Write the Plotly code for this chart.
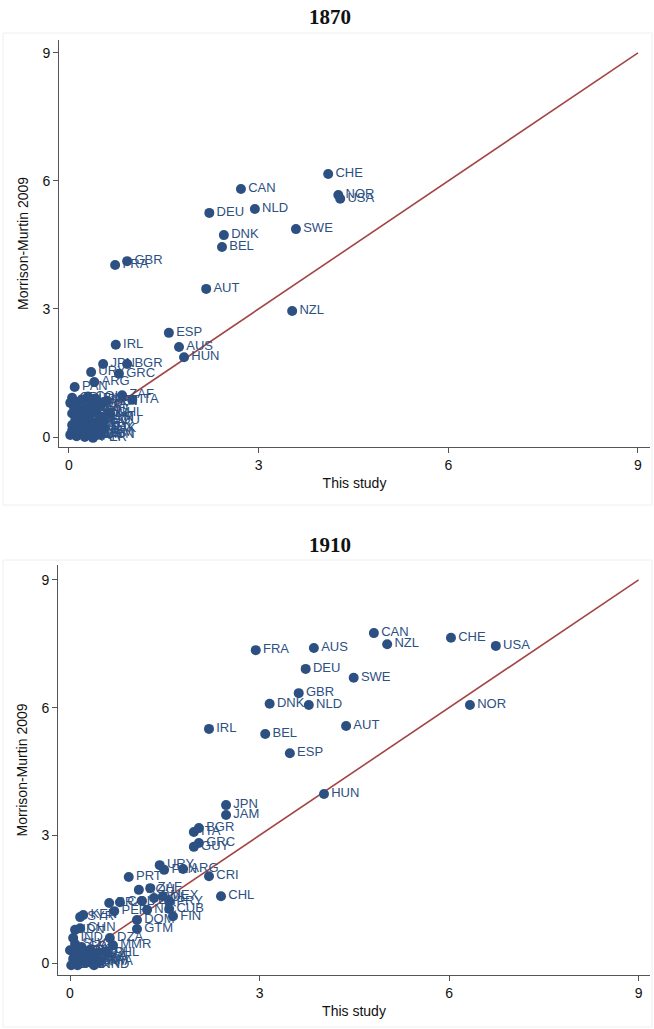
import plotly.graph_objects as go

# ---------------- data ----------------
codes_1870 = ["CHE", "NOR", "USA", "CAN", "NLD", "DEU", "SWE", "DNK", "BEL", "GBR", "FRA",
              "AUT", "NZL", "ESP", "AUS", "HUN", "IRL", "JPN", "BGR", "URY", "GRC", "ARG",
              "PAN", "ZAF", "ITA", "CHL", "MEX", "PER",
              "COL", "CRI", "CUB", "ECU", "SLV", "GTM", "HND", "NIC", "PRY", "VEN", "BRA",
              "BOL", "DOM", "HTI", "JAM", "PRT", "FIN", "POL", "ROU", "SRB", "TUR", "EGY",
              "IND", "CHN", "IDN", "THA", "PHL", "MMR", "KOR", "VNM", "DZA", "MAR", "TUN",
              "GHA", "KEN", "NGA", "IRN", "LKA", "BGD", "PAK", "SYR"]
x_1870 = [4.10, 4.26, 4.29, 2.72, 2.94, 2.22, 3.59, 2.45, 2.42, 0.92, 0.73,
          2.17, 3.53, 1.58, 1.74, 1.82, 0.74, 0.54, 0.92, 0.35, 0.79, 0.40,
          0.09, 0.84, 1.00, 0.65, 0.46, 0.38,
          0.30, 0.05, 0.20, 0.02, 0.12, 0.32, 0.08, 0.25, 0.45, 0.55, 0.15,
          0.05, 0.35, 0.22, 0.50, 0.60, 0.42, 0.28, 0.55, 0.10, 0.18, 0.40,
          0.05, 0.25, 0.15, 0.35, 0.08, 0.20, 0.30, 0.45, 0.12, 0.25, 0.50,
          0.02, 0.38, 0.15, 0.42, 0.30, 0.05, 0.55, 0.48]
y_1870 = [6.16, 5.67, 5.58, 5.81, 5.34, 5.25, 4.87, 4.73, 4.45, 4.12, 4.03,
          3.47, 2.95, 2.44, 2.11, 1.87, 2.16, 1.71, 1.71, 1.52, 1.48, 1.29,
          1.17, 0.98, 0.87, 0.56, 0.21, -0.02,
          0.95, 0.92, 0.88, 0.80, 0.78, 0.75, 0.70, 0.68, 0.72, 0.82, 0.60,
          0.55, 0.55, 0.50, 0.48, 0.85, 0.90, 0.42, 0.38, 0.40, 0.35, 0.32,
          0.28, 0.25, 0.20, 0.15, 0.12, 0.08, 0.05, 0.10, 0.02, 0.00, 0.05,
          0.05, 0.30, 0.45, 0.60, 0.62, 0.15, 0.20, 0.45]

codes_1910 = ["CAN", "NZL", "CHE", "USA", "FRA", "AUS", "DEU", "SWE", "GBR", "DNK", "NLD",
              "NOR", "IRL", "BEL", "AUT", "ESP", "HUN", "JPN", "JAM", "BGR", "ITA", "GRC",
              "GUY", "URY", "PAN", "ARG", "CRI", "PRT", "CHL", "ROU", "ZAF", "MEX", "POL",
              "PRY", "BRA", "COL", "VEN", "PER", "NIC", "CUB", "FIN", "DOM", "GTM",
              "KEN", "SYR", "CHN", "IDN", "IND", "DZA", "MMR", "PHL", "THA",
              "EGY", "TUR", "KOR", "GHA", "NGA", "MAR", "TUN", "VNM", "LKA", "BGD",
              "PAK", "IRN", "HTI", "BOL", "HND", "SLV", "ECU", "SRB"]
x_1910 = [4.81, 5.02, 6.03, 6.74, 2.94, 3.86, 3.73, 4.49, 3.62, 3.16, 3.78,
          6.33, 2.20, 3.09, 4.37, 3.48, 4.02, 2.47, 2.47, 2.04, 1.96, 2.04,
          1.96, 1.42, 1.49, 1.79, 2.20, 0.93, 2.39, 1.09, 1.27, 1.47, 1.33,
          1.57, 0.62, 0.79, 1.14, 0.70, 1.22, 1.57, 1.63, 1.06, 1.06,
          0.21, 0.16, 0.16, 0.08, 0.05, 0.63, 0.68, 0.58, 0.47,
          0.00, 0.10, 0.20, 0.30, 0.05, 0.15, 0.25, 0.35, 0.40, 0.02,
          0.12, 0.22, 0.32, 0.45, 0.38, 0.08, 0.27, 0.18]
y_1910 = [7.75, 7.49, 7.64, 7.45, 7.35, 7.40, 6.91, 6.70, 6.34, 6.09, 6.06,
          6.06, 5.50, 5.38, 5.57, 4.93, 3.97, 3.71, 3.48, 3.17, 3.08, 2.82,
          2.73, 2.30, 2.19, 2.21, 2.04, 2.02, 1.57, 1.72, 1.76, 1.57, 1.53,
          1.45, 1.41, 1.43, 1.46, 1.22, 1.25, 1.27, 1.10, 1.01, 0.80,
          1.13, 1.08, 0.82, 0.78, 0.59, 0.59, 0.42, 0.24, 0.02,
          0.30, 0.25, 0.20, 0.15, 0.10, 0.05, 0.00, 0.05, 0.15, -0.05,
          -0.05, 0.30, 0.32, 0.25, -0.05, 0.45, 0.10, 0.38]

diag = [0, 9]
tick_vals = [0, 3, 6, 9]
titles = ["1870", "1910"]

# ---------------- style ----------------
NAVY = "#2d5082"
RED = "#a34545"
AXC = "#555555"
W, H = 654, 1029

fig = go.Figure()

panels = [(codes_1870, x_1870, y_1870), (codes_1910, x_1910, y_1910)]
for i, (c, xv, yv) in enumerate(panels):
    sfx = "" if i == 0 else "2"
    fig.add_trace(go.Scatter(
        x=diag, y=diag, mode="lines", line=dict(color=RED, width=1.6),
        xaxis="x" + sfx, yaxis="y" + sfx, showlegend=False, hoverinfo="skip"))
    fig.add_trace(go.Scatter(
        x=xv, y=yv, text=c, mode="markers+text", textposition="middle right",
        marker=dict(color=NAVY, size=10, line=dict(width=0)),
        textfont=dict(family="Liberation Sans, Arial", size=13, color=NAVY),
        xaxis="x" + sfx, yaxis="y" + sfx, showlegend=False))

def px_x(p):
    return p / W

def px_y(p):
    return 1 - p / H

axis_common = dict(
    tickvals=tick_vals, ticks="outside", ticklen=5, tickwidth=1, tickcolor=AXC,
    showline=True, linecolor=AXC, linewidth=1, showgrid=False, zeroline=False,
    automargin=False,
    tickfont=dict(family="Liberation Sans, Arial", size=14, color="#111111"),
    title_font=dict(family="Liberation Sans, Arial", size=14, color="#111111"),
)

fig.update_layout(
    width=W, height=H, margin=dict(l=0, r=0, t=0, b=0),
    paper_bgcolor="white", plot_bgcolor="white",
    xaxis=dict(domain=[px_x(59), px_x(650)], range=[-0.158, 9.19], anchor="y",
               title=dict(text="This study", standoff=6), **axis_common),
    yaxis=dict(domain=[px_y(447), px_y(40)], range=[-0.234, 9.30], anchor="x",
               title=dict(text="Morrison-Murtin 2009", standoff=10), **axis_common),
    xaxis2=dict(domain=[px_x(58), px_x(650)], range=[-0.19, 9.18], anchor="y2",
                title=dict(text="This study", standoff=6), **axis_common),
    yaxis2=dict(domain=[px_y(975), px_y(565)], range=[-0.28, 9.35], anchor="x2",
                title=dict(text="Morrison-Murtin 2009", standoff=10), **axis_common),
    shapes=[
        dict(type="rect", xref="paper", yref="paper", x0=px_x(3), x1=px_x(652),
             y0=px_y(505), y1=px_y(33), line=dict(color="#eeeeee", width=1),
             layer="below"),
        dict(type="rect", xref="paper", yref="paper", x0=px_x(3), x1=px_x(652),
             y0=px_y(1027), y1=px_y(560), line=dict(color="#eeeeee", width=1),
             layer="below"),
    ],
    annotations=[
        dict(text="<b>1870</b>", x=px_x(330), y=px_y(17), xref="paper", yref="paper",
             showarrow=False, xanchor="center", yanchor="middle",
             font=dict(family="Liberation Serif, Times New Roman", size=21, color="#111111")),
        dict(text="<b>1910</b>", x=px_x(330), y=px_y(545), xref="paper", yref="paper",
             showarrow=False, xanchor="center", yanchor="middle",
             font=dict(family="Liberation Serif, Times New Roman", size=21, color="#111111")),
    ],
)

fig.write_html("out.html", config={"displayModeBar": False},
               post_script="document.body.style.margin='0px';document.body.style.padding='0px';")
